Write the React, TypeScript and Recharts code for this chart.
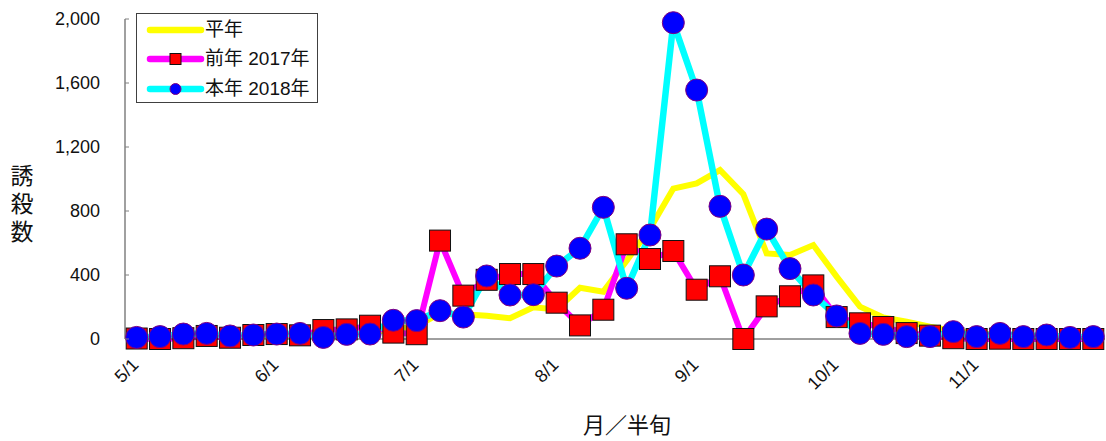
import React from 'react';
import { LineChart, Line, XAxis, YAxis, Legend, Label } from 'recharts';

// 半旬 (5-day periods), May to November
const periods = [
    '5/1', '5/6', '5/11', '5/16', '5/21', '5/26',
    '6/1', '6/6', '6/11', '6/16', '6/21', '6/26',
    '7/1', '7/6', '7/11', '7/16', '7/21', '7/26',
    '8/1', '8/6', '8/11', '8/16', '8/21', '8/26',
    '9/1', '9/6', '9/11', '9/16', '9/21', '9/26',
    '10/1', '10/6', '10/11', '10/16', '10/21', '10/26',
    '11/1', '11/6', '11/11', '11/16', '11/21', '11/26',
];

const normalYear = [
    10, 10, 12, 15, 15, 18, 20, 22, 25, 30, 40, 60,
    80, 160, 155, 145, 130, 198, 185, 320, 296, 490,
    690, 940, 973, 1056, 905, 535, 525, 587, 390, 202,
    135, 108, 77, 50, 35, 25, 20, 15, 10, 10,
];

const year2017 = [
    3, 0, 5, 19, 8, 25, 31, 23, 56, 60, 83, 40,
    30, 615, 271, 370, 406, 406, 227, 85, 183, 592,
    500, 550, 308, 392, 0, 204, 267, 335, 137, 98,
    75, 37, 21, 5, 0, 2, 0, 0, 0, 0,
];

const year2018 = [
    10, 15, 31, 35, 19, 25, 31, 35, 10, 29, 31, 117,
    115, 177, 137, 394, 275, 277, 456, 567, 823, 317,
    650, 1977, 1556, 829, 400, 687, 440, 275, 144, 35,
    29, 15, 15, 46, 15, 35, 15, 25, 10, 15,
];

const yTicks = [0, 400, 800, 1200, 1600, 2000];
const legendOrder = ['normal', 'y2017', 'y2018'];

const data = periods.map((p, i) => ({
    period: p,
    normal: normalYear[i],
    y2017: year2017[i],
    y2018: year2018[i],
}));

const FONT = '"Liberation Sans", Arial, "Noto Sans CJK JP", sans-serif';

// eslint-disable-next-line @typescript-eslint/no-explicit-any
function YTick({ x, y, payload }: any) {
    return (
        <g>
            <line x1={x} x2={x + 4} y1={y} y2={y} stroke="#808080" strokeWidth={1} />
            <text x={x - 25} y={y} dy="0.35em" textAnchor="end" fontSize={18} fontFamily={FONT} fill="#111">
                {payload.value.toLocaleString('en-US')}
            </text>
        </g>
    );
}

// eslint-disable-next-line @typescript-eslint/no-explicit-any
function XTick({ x, y, payload }: any) {
    return (
        <text
            transform={`translate(${x + 3}, ${y + 27}) rotate(-45)`}
            textAnchor="end"
            fontSize={18}
            fontFamily={FONT}
            fill="#111"
        >
            {payload.value}
        </text>
    );
}

// eslint-disable-next-line @typescript-eslint/no-explicit-any
function SquareDot(props: any) {
    const { cx, cy, index } = props;
    if (cx == null || cy == null) return null;
    return <rect key={`sq-${index}`} x={cx - 10.5} y={cy - 10.5} width={21} height={21} fill="#ff0000" stroke="#111" strokeWidth={1} />;
}

// eslint-disable-next-line @typescript-eslint/no-explicit-any
function CircleDot(props: any) {
    const { cx, cy, index } = props;
    if (cx == null || cy == null) return null;
    return <circle key={`ci-${index}`} cx={cx} cy={cy} r={11} fill="#0000ff" stroke="#800080" strokeWidth={1} />;
}

// eslint-disable-next-line @typescript-eslint/no-explicit-any
function LegendBox({ payload }: any) {
    const items = [...(payload || [])].sort(
        // eslint-disable-next-line @typescript-eslint/no-explicit-any
        (a: any, b: any) => legendOrder.indexOf(a.dataKey) - legendOrder.indexOf(b.dataKey),
    );
    return (
        <div style={{
            width: 182, height: 90, border: '1px solid #404040', background: '#fff',
            boxSizing: 'border-box', paddingTop: 1,
        }}>
            {/* eslint-disable-next-line @typescript-eslint/no-explicit-any */}
            {items.map((entry: any, i: number) => (
                <div key={i} style={{ display: 'flex', alignItems: 'center', height: 29.5 }}>
                    <svg width={68} height={20} style={{ display: 'block' }}>
                        <line x1={13} x2={64} y1={10} y2={10} stroke={entry.color} strokeWidth={6.5} strokeLinecap="round" />
                        {entry.dataKey === 'y2017' && (
                            <rect x={33} y={4.5} width={11} height={11} fill="#ff0000" stroke="#111" strokeWidth={1} />
                        )}
                        {entry.dataKey === 'y2018' && (
                            <circle cx={38.5} cy={10} r={5.5} fill="#0000ff" stroke="#800080" strokeWidth={1} />
                        )}
                    </svg>
                    <span style={{ fontFamily: FONT, fontSize: 19, color: '#111', lineHeight: '20px' }}>{entry.value}</span>
                </div>
            ))}
        </div>
    );
}

export default function App() {
    return (
        <div style={{ position: 'absolute', left: 0, top: 0, width: 1106, height: 441, background: '#fff' }}>
            <LineChart width={1106} height={441} data={data} margin={{ top: 19, right: 1, left: 0, bottom: 0 }}>
                <XAxis
                    dataKey="period"
                    interval={5}
                    height={102}
                    padding={{ left: 11.7, right: 11.7 }}
                    tickSize={0}
                    tickMargin={0}
                    tickLine={false}
                    axisLine={{ stroke: '#404040', strokeWidth: 1 }}
                    tick={<XTick />}
                >
                    <Label
                        content={({ viewBox }: any) => (
                            <text
                                x={viewBox.x + viewBox.width / 2 + 12}
                                y={viewBox.y + 94}
                                textAnchor="middle"
                                fontSize={22}
                                fontFamily={FONT}
                                fill="#111"
                            >
                                月／半旬
                            </text>
                        )}
                    />
                </XAxis>
                <YAxis
                    width={125}
                    domain={[0, 2000]}
                    ticks={yTicks}
                    tickSize={0}
                    tickMargin={0}
                    tickLine={false}
                    axisLine={{ stroke: '#808080', strokeWidth: 1.5 }}
                    tick={<YTick />}
                    interval={0}
                >
                    <Label
                        content={() => (
                            <text x={22} textAnchor="middle" fontSize={23} fontFamily={FONT} fill="#111">
                                <tspan x={22} y={184}>誘</tspan>
                                <tspan x={22} y={212}>殺</tspan>
                                <tspan x={22} y={240}>数</tspan>
                            </text>
                        )}
                    />
                </YAxis>
                <Legend
                    layout="vertical"
                    align="center"
                    verticalAlign="middle"
                    content={<LegendBox />}
                    wrapperStyle={{ position: 'absolute', left: 136, top: 13, width: 182, height: 90 }}
                />
                <Line
                    dataKey="normal"
                    name="平年"
                    stroke="#ffff00"
                    strokeWidth={6}
                    dot={false}
                    activeDot={false}
                    isAnimationActive={false}
                />
                <Line
                    dataKey="y2017"
                    name="前年 2017年"
                    stroke="#ff00ff"
                    strokeWidth={6}
                    dot={<SquareDot />}
                    activeDot={false}
                    isAnimationActive={false}
                />
                <Line
                    dataKey="y2018"
                    name="本年 2018年"
                    stroke="#00ffff"
                    strokeWidth={6.5}
                    dot={<CircleDot />}
                    activeDot={false}
                    isAnimationActive={false}
                />
            </LineChart>
        </div>
    );
}
